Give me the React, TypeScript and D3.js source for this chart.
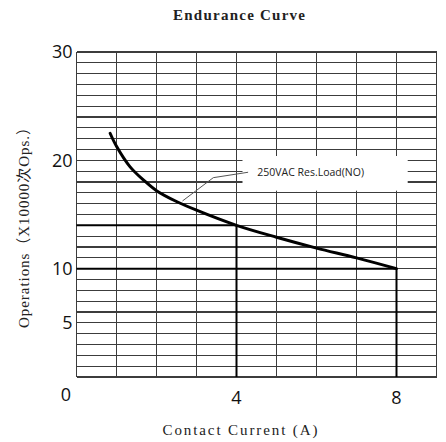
import * as d3 from 'd3';

// Endurance curve: 250VAC resistive load (NO)
const currents = [0.84, 1, 1.34, 1.7, 2, 2.5, 3, 4, 5, 6, 7, 8];
const operations = [22.5, 21.3, 19.4, 18.1, 17.2, 16.2, 15.4, 14.0, 12.9, 11.9, 11.0, 10.0];
const yTicks = [30, 20, 10, 5];
const xTicks = [4, 8];
const seriesName = '250VAC Res.Load(NO)';
// reference lines drawn heavy: [current, operations]
const markers: [number, number][] = [[4, 14], [8, 10]];

const W = 446;
const H = 442;
const M = { left: 76.5, right: 436.5, top: 52, bottom: 377 };

const SERIF = '"Liberation Serif", "Noto Sans CJK SC", serif';
const SANS = '"Open Sans", "Noto Sans", sans-serif';

export default function App() {
  const x = d3.scaleLinear().domain([0, 9]).range([M.left, M.right]);
  const y = d3.scaleLinear().domain([0, 30]).range([M.bottom, M.top]);

  const line = d3.line<number>()
    .x((_, i) => x(currents[i]))
    .y((d) => y(d))
    .curve(d3.curveCatmullRom);

  const vGrid = d3.range(0, 10);
  const hGrid = d3.range(0, 31);

  // legend box and leader, in data coords
  const box = { x0: 4.15, x1: 8.28, y0: 20.4, y1: 17.2 };
  const leader: [number, number][] = [[2.65, 16.25], [3.42, 18.4], [4.29, 18.9]];

  return (
    <svg width={W} height={H} style={{ position: 'absolute', left: 0, top: 0, background: '#fff' }}>
      <text x={239} y={20} textAnchor="middle" fontFamily={SERIF} fontSize={15} fontWeight="bold" fill="#222"
        textLength={132} lengthAdjust="spacing">
        Endurance Curve
      </text>

      <g stroke="#3c3c3c" strokeWidth={1.1} shapeRendering="crispEdges">
        {hGrid.map((v) => (
          <line key={'h' + v} x1={M.left} x2={M.right} y1={y(v)} y2={y(v)} />
        ))}
        {vGrid.map((v) => (
          <line key={'v' + v} x1={x(v)} x2={x(v)} y1={M.top} y2={M.bottom} />
        ))}
      </g>

      <g stroke="#000" strokeWidth={2}>
        {markers.map(([cx, cy]) => (
          <g key={cx}>
            <line x1={x(0)} x2={x(cx)} y1={y(cy)} y2={y(cy)} />
            <line x1={x(cx)} x2={x(cx)} y1={y(cy)} y2={y(0)} />
          </g>
        ))}
      </g>

      <rect x={x(box.x0)} y={y(box.y0)} width={x(box.x1) - x(box.x0)} height={y(box.y1) - y(box.y0)} fill="#fff" />
      <path d={d3.line()(leader.map(([a, b]) => [x(a), y(b)]))!} fill="none" stroke="#555" strokeWidth={1} />
      <text x={x(4.52)} y={y(18.9) + 3.5} fontFamily={SANS} fontSize={10.5} fill="#222">
        {seriesName}
      </text>

      <path d={line(operations)!} fill="none" stroke="#000" strokeWidth={3} strokeLinecap="round" />

      <g fontFamily={SANS} fontSize={18} fill="#111">
        {yTicks.map((t) => (
          <text key={t} x={M.left - 4} y={y(t)} dy="0.35em" textAnchor="end">{t}</text>
        ))}
        <text x={66} y={401} textAnchor="middle">0</text>
        {xTicks.map((t) => (
          <text key={t} x={x(t)} y={404} textAnchor="middle">{t}</text>
        ))}
      </g>

      <text x={240} y={435} textAnchor="middle" fontFamily={SERIF} fontSize={15} fill="#222"
        textLength={155} lengthAdjust="spacing">
        Contact Current (A)
      </text>
      <text transform="translate(29,224) rotate(-90)" textAnchor="middle" fontFamily={SERIF} fontSize={15} fill="#222"
        textLength={208} lengthAdjust="spacing">
        Operations（X10000次Ops.）
      </text>
    </svg>
  );
}
